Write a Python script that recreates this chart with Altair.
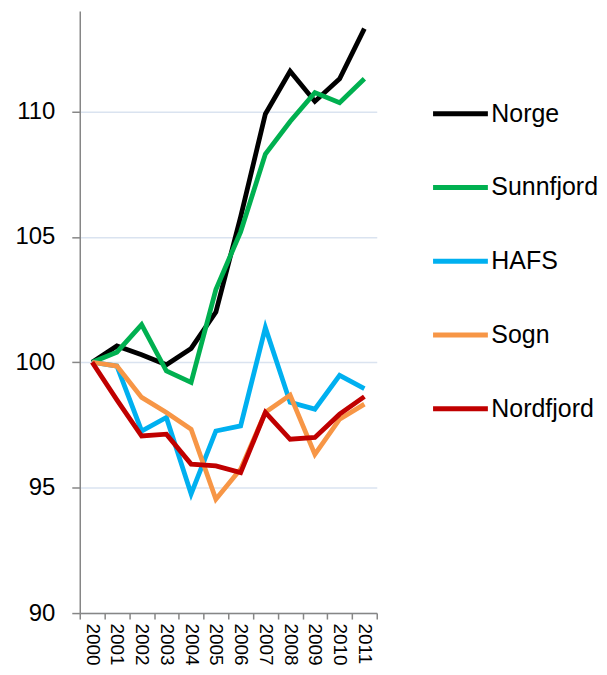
import altair as alt
import pandas as pd

years = [str(y) for y in range(2000, 2012)]
series = ["Norge", "Sunnfjord", "HAFS", "Sogn", "Nordfjord"]
colors = ["#000000", "#00b050", "#00b0f0", "#f79646", "#c00000"]

norge = [100.0, 100.65, 100.3, 99.9, 100.55, 102.0, 105.8, 109.9, 111.6, 110.4, 111.3, 113.3]
sunnfjord = [100.0, 100.4, 101.5, 99.65, 99.2, 102.9, 105.2, 108.3, 109.6, 110.75, 110.35, 111.3]
hafs = [100.0, 99.85, 97.26, 97.8, 94.75, 97.26, 97.46, 101.38, 98.4, 98.13, 99.48, 98.95]
sogn = [100.0, 99.85, 98.6, 98.0, 97.33, 94.54, 95.74, 98.0, 98.69, 96.33, 97.73, 98.33]
nordfjord = [100.0, 98.5, 97.06, 97.13, 95.94, 95.87, 95.6, 98.0, 96.93, 97.0, 97.93, 98.63]

values = [norge, sunnfjord, hafs, sogn, nordfjord]
rows = []
for name, vals in zip(series, values):
    for yr, v in zip(years, vals):
        rows.append({"year": yr, "series": name, "value": v})
df = pd.DataFrame(rows)

FONT = "Liberation Sans"

chart = alt.Chart(df).mark_line(strokeWidth=4.8, strokeJoin="miter").encode(
    x=alt.X("year:O", title=None,
            scale=alt.Scale(type="band", paddingInner=0, paddingOuter=0),
            axis=alt.Axis(labelAngle=90, labelAlign="left", labelBaseline="middle",
                          labelFontSize=19, labelFont=FONT, labelColor="#000000",
                          tickBand="extent", tickSize=6, tickColor="#868686",
                          domainColor="#868686", domainWidth=1.5, tickWidth=1.5,
                          labelPadding=4, grid=False)),
    y=alt.Y("value:Q", title=None,
            scale=alt.Scale(domain=[90, 114], nice=False, zero=False),
            axis=alt.Axis(values=[90, 95, 100, 105, 110], labelFontSize=24,
                          labelFont=FONT, labelColor="#000000", tickSize=8,
                          tickColor="#868686", domainColor="#868686",
                          domainWidth=1.5, tickWidth=1.5, labelPadding=17,
                          grid=True, gridColor="#dae3f0", gridWidth=1.5)),
    color=alt.Color("series:N", sort=series,
                    scale=alt.Scale(domain=series, range=colors),
                    legend=alt.Legend(title=None, orient="none", legendX=352, legendY=73,
                                      symbolType="stroke", symbolSize=3025,
                                      symbolStrokeWidth=5, labelFontSize=25,
                                      labelFont=FONT, labelColor="#000000",
                                      labelOffset=1, rowPadding=31, padding=0)),
).properties(
    width=298, height=604,
    padding={"left": 6, "top": 2, "right": 0, "bottom": 0},
).configure_view(stroke=None)

chart.save("out.html", embed_options={"renderer": "svg", "actions": False})
